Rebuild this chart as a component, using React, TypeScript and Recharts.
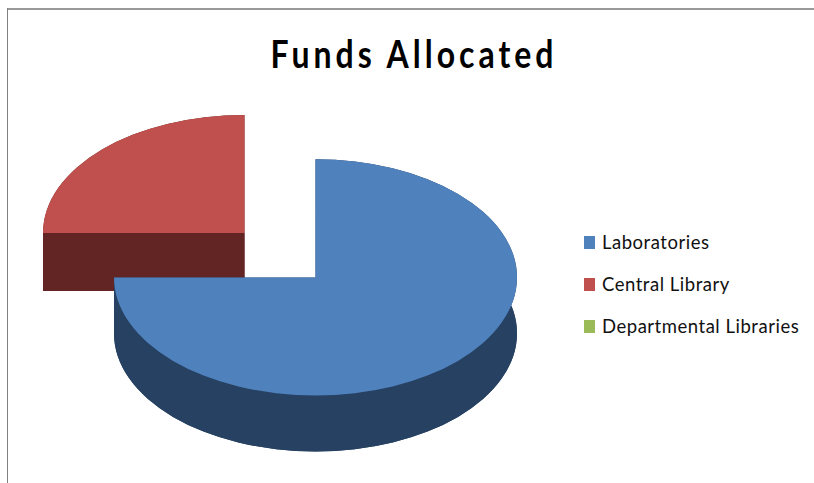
import { Legend, Pie, PieChart } from "recharts";

const categories = ["Laboratories", "Central Library", "Departmental Libraries"];
const values = [75, 25, 0];
const topColors = ["#4F81BD", "#C0504D", "#9BBB59"];
const wallColors = ["#264161", "#632523", "#4F602C"];

// red slice has to be painted first so the blue one overlaps its wall
const drawOrder = [1, 0, 2];

const TILT = 0.586;
const EXPLODE_X = 71 / Math.cos(Math.PI / 4) / 201.5;
const EXPLODE_Y = 44.4 / Math.sin(Math.PI / 4) / (201.5 * TILT);

const pieData = drawOrder.map((i) => ({
  name: categories[i],
  value: values[i],
  fill: topColors[i],
  wall: wallColors[i],
  exploded: categories[i] === "Central Library",
}));

// Flattened pie slice with a side wall, using the angles Recharts worked out
function Slice3D(props: any) {
  const { cx, cy, outerRadius, startAngle, endAngle, payload } = props;
  if (Math.abs(startAngle - endAngle) < 0.01) return <g />;

  const rx = outerRadius;
  const ry = outerRadius * TILT;
  const depth = payload.exploded ? 58 : 56;

  const mid = (((startAngle + endAngle) / 2) * Math.PI) / 180;
  const x0 = payload.exploded ? cx + Math.cos(mid) * EXPLODE_X * outerRadius : cx;
  const y0 = payload.exploded ? cy - Math.sin(mid) * EXPLODE_Y * ry : cy;

  const at = (deg: number, dy = 0) => {
    const a = (deg * Math.PI) / 180;
    return `${x0 + rx * Math.cos(a)} ${y0 - ry * Math.sin(a) + dy}`;
  };
  const large = Math.abs(startAngle - endAngle) > 180 ? 1 : 0;

  const sector = (dy: number) =>
    `M ${x0} ${y0 + dy} L ${at(startAngle, dy)} A ${rx} ${ry} 0 ${large} 1 ${at(endAngle, dy)} Z`;
  const band =
    `M ${at(startAngle)} A ${rx} ${ry} 0 ${large} 1 ${at(endAngle)} ` +
    `L ${at(endAngle, depth)} A ${rx} ${ry} 0 ${large} 0 ${at(startAngle, depth)} Z`;
  const edge = (deg: number) =>
    `M ${x0} ${y0} L ${at(deg)} L ${at(deg, depth)} L ${x0} ${y0 + depth} Z`;

  return (
    <g>
      <path d={sector(depth)} fill={payload.wall} />
      <path d={band} fill={payload.wall} />
      <path d={edge(startAngle)} fill={payload.wall} />
      <path d={edge(endAngle)} fill={payload.wall} />
      <path d={sector(0)} fill={payload.fill} />
    </g>
  );
}

function LegendList() {
  return (
    <div style={{ fontFamily: "Lato, sans-serif", fontSize: 18.5, color: "#111" }}>
      {categories.map((name, i) => (
        <div key={name} style={{ display: "flex", alignItems: "center", height: 42 }}>
          <span
            style={{
              width: 11,
              height: 13,
              background: topColors[i],
              marginRight: 7,
              flex: "none",
            }}
          />
          <span style={{ whiteSpace: "nowrap", letterSpacing: 0.52 }}>{name}</span>
        </div>
      ))}
    </div>
  );
}

export default function App() {
  return (
    <div style={{ position: "absolute", left: 0, top: 0, width: 814, height: 483, background: "#fff", overflow: "hidden" }}>
      <div style={{ position: "absolute", left: 7, top: 8, right: 0, height: 2, background: "#999" }} />
      <div style={{ position: "absolute", left: 7, top: 8, bottom: 0, width: 1, background: "#808080" }} />
      <PieChart width={814} height={483} margin={{ top: 0, right: 0, bottom: 0, left: 0 }}>
        <text
          transform="translate(414 68) scale(0.82 1)"
          textAnchor="middle"
          fontFamily="Lato, sans-serif"
          fontWeight={700}
          fontSize={39}
          letterSpacing={4.9}
          fill="#000"
        >
          Funds Allocated
        </text>
        <Pie
          data={pieData}
          dataKey="value"
          nameKey="name"
          cx={315.5}
          cy={277.4}
          outerRadius={201.5}
          startAngle={180}
          endAngle={-180}
          stroke="none"
          shape={Slice3D}
          rootTabIndex={-1}
          isAnimationActive={false}
        />
        <Legend
          layout="vertical"
          content={<LegendList />}
          wrapperStyle={{ position: "absolute", left: 584, top: 221, width: 230, bottom: "auto" }}
        />
      </PieChart>
    </div>
  );
}
